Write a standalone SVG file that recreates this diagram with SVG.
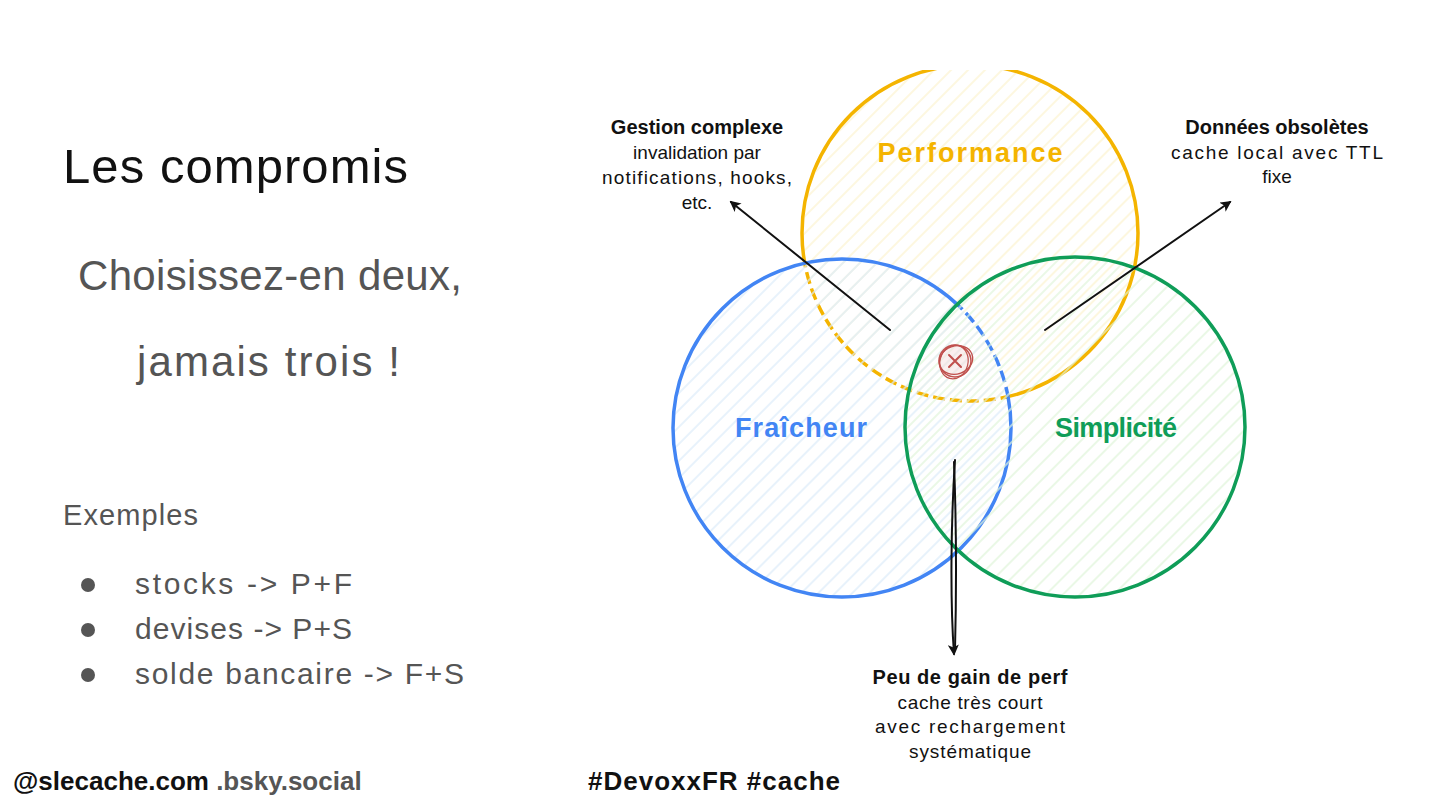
<svg xmlns="http://www.w3.org/2000/svg" width="1440" height="810" viewBox="0 0 1440 810">
<defs>
<style>
.hand{font-family:"Liberation Sans","DejaVu Sans",sans-serif}
.title{font-size:49px;fill:#111}
.sub{font-size:42px;fill:#555}
.ex{font-size:29px;fill:#555}
.item{font-size:30px;fill:#555}
.ann{font-size:19px;fill:#111;text-anchor:middle}
.annb{font-size:20px;font-weight:bold;fill:#111;text-anchor:middle}
.lbl{font-size:27px;font-weight:bold;text-anchor:middle}
.foot{font-size:26px;font-weight:bold}
.conn{stroke:#111;stroke-width:2;fill:none;stroke-linecap:round}
</style>
<pattern id="hY" patternUnits="userSpaceOnUse" width="12" height="12" patternTransform="rotate(45)"><line x1="2" y1="0" x2="2" y2="12" stroke="#fcf4d4" stroke-width="1.5"/></pattern>
<pattern id="hB" patternUnits="userSpaceOnUse" width="12" height="12" patternTransform="rotate(45)"><line x1="2" y1="0" x2="2" y2="12" stroke="#dcecfa" stroke-width="1.5"/></pattern>
<pattern id="hG" patternUnits="userSpaceOnUse" width="12" height="12" patternTransform="rotate(45)"><line x1="8" y1="0" x2="8" y2="12" stroke="#e0f4da" stroke-width="1.5"/></pattern>
<clipPath id="topClip"><rect x="0" y="70" width="1440" height="740"/></clipPath>
<clipPath id="inBlue"><circle cx="842" cy="428" r="169"/></clipPath>
<clipPath id="inYellow"><circle cx="970" cy="233" r="168"/></clipPath>
<clipPath id="inGreen"><circle cx="1075" cy="427" r="170"/></clipPath>
<mask id="outBlue"><rect x="0" y="0" width="1440" height="810" fill="#fff"/><circle cx="842" cy="428" r="169" fill="#000"/></mask>
<mask id="outYG"><rect x="0" y="0" width="1440" height="810" fill="#fff"/><g clip-path="url(#inYellow)"><circle cx="1075" cy="427" r="170" fill="#000"/></g></mask>
<marker id="arr" viewBox="0 0 12 12" refX="10" refY="6" markerWidth="11" markerHeight="11" markerUnits="userSpaceOnUse" orient="auto"><path d="M0,0 L12,6 L0,12 L3,6 Z" fill="#111"/></marker>
</defs>
<rect width="1440" height="810" fill="#fff"/>

<g id="text-left" class="hand">
<text class="title" x="63" y="183" textLength="345">Les compromis</text>
<text class="sub" x="78" y="290" textLength="384">Choisissez-en deux,</text>
<text class="sub" x="137" y="376" textLength="263">jamais trois !</text>
<text class="ex" x="63" y="525" textLength="135">Exemples</text>
<circle cx="88" cy="585" r="7" fill="#555"/>
<circle cx="88" cy="630" r="7" fill="#555"/>
<circle cx="88" cy="675" r="7" fill="#555"/>
<text class="item" x="135" y="594" textLength="217">stocks -&gt; P+F</text>
<text class="item" x="135" y="639" textLength="217">devises -&gt; P+S</text>
<text class="item" x="135" y="684" textLength="329">solde bancaire -&gt; F+S</text>
</g>

<g id="node-performance">
<g clip-path="url(#topClip)">
<circle cx="970" cy="233" r="168" fill="url(#hY)"/>
<circle cx="970" cy="233" r="168" fill="none" stroke="#f4b400" stroke-width="3.5" mask="url(#outBlue)"/>
<circle cx="970" cy="233" r="168" fill="none" stroke="#f4b400" stroke-width="3.5" stroke-dasharray="12 5" clip-path="url(#inBlue)"/>
</g>
<text class="hand lbl" x="970" y="162" fill="#f4b400" textLength="185">Performance</text>
</g>

<g id="node-fraicheur">
<circle cx="842" cy="428" r="169" fill="url(#hB)" fill-opacity="0.9"/>
<circle cx="842" cy="428" r="169" fill="none" stroke="#4285f4" stroke-width="3.5" mask="url(#outYG)"/>
<g clip-path="url(#inYellow)"><circle cx="842" cy="428" r="169" fill="none" stroke="#4285f4" stroke-width="3.5" stroke-dasharray="12 5" clip-path="url(#inGreen)"/></g>
<text class="hand lbl" x="801" y="437" fill="#4285f4" textLength="132">Fraîcheur</text>
</g>

<g id="node-simplicite">
<circle cx="1075" cy="427" r="170" fill="url(#hG)" fill-opacity="0.9"/>
<circle cx="1075" cy="427" r="170" fill="none" stroke="#0f9d58" stroke-width="3.5"/>
<text class="hand lbl" x="1116" y="437" fill="#0f9d58" textLength="122">Simplicité</text>
</g>

<g id="node-cross">
<circle cx="955" cy="361" r="16" fill="#f6e0e0" fill-opacity="0.5" stroke="#c0504d" stroke-width="1.5"/>
<ellipse cx="956" cy="360" rx="17" ry="14" fill="none" stroke="#c0504d" stroke-width="1.3" transform="rotate(-20 956 360)"/>
<ellipse cx="954" cy="362" rx="14" ry="17" fill="none" stroke="#c0504d" stroke-width="1.2" transform="rotate(15 954 362)"/>
<path d="M949,355 L961,367 M961,355 L949,367" stroke="#c0504d" stroke-width="2" fill="none" stroke-linecap="round"/>
</g>

<g id="connectors">
<line class="conn" x1="890" y1="330" x2="731" y2="202" marker-end="url(#arr)"/>
<line class="conn" x1="1045" y1="330" x2="1230" y2="202" marker-end="url(#arr)"/>
<path class="conn" d="M955,460 C951,520 950,600 954,654" marker-end="url(#arr)"/>
<path class="conn" d="M954,462 C957,540 956,610 955,650" stroke-width="1.5"/>
</g>

<g id="note-gestion" class="hand">
<text class="annb" x="697" y="134">Gestion complexe</text>
<text class="ann" x="697" y="159">invalidation par</text>
<text class="ann" x="697" y="184" textLength="190">notifications, hooks,</text>
<text class="ann" x="697" y="209">etc.</text>
</g>
<g id="note-donnees" class="hand">
<text class="annb" x="1277" y="134">Données obsolètes</text>
<text class="ann" x="1277" y="159" textLength="212">cache local avec TTL</text>
<text class="ann" x="1277" y="183">fixe</text>
</g>
<g id="note-peu" class="hand">
<text class="annb" x="970" y="684" textLength="195">Peu de gain de perf</text>
<text class="ann" x="970" y="709" textLength="145">cache très court</text>
<text class="ann" x="970" y="733" textLength="190">avec rechargement</text>
<text class="ann" x="970" y="758" textLength="122">systématique</text>
</g>

<g id="footer" class="hand">
<text class="foot" x="13" y="790"><tspan fill="#111">@slecache.com</tspan><tspan fill="#555"> .bsky.social</tspan></text>
<text class="foot" x="588" y="790" fill="#111" textLength="252">#DevoxxFR #cache</text>
</g>
</svg>
